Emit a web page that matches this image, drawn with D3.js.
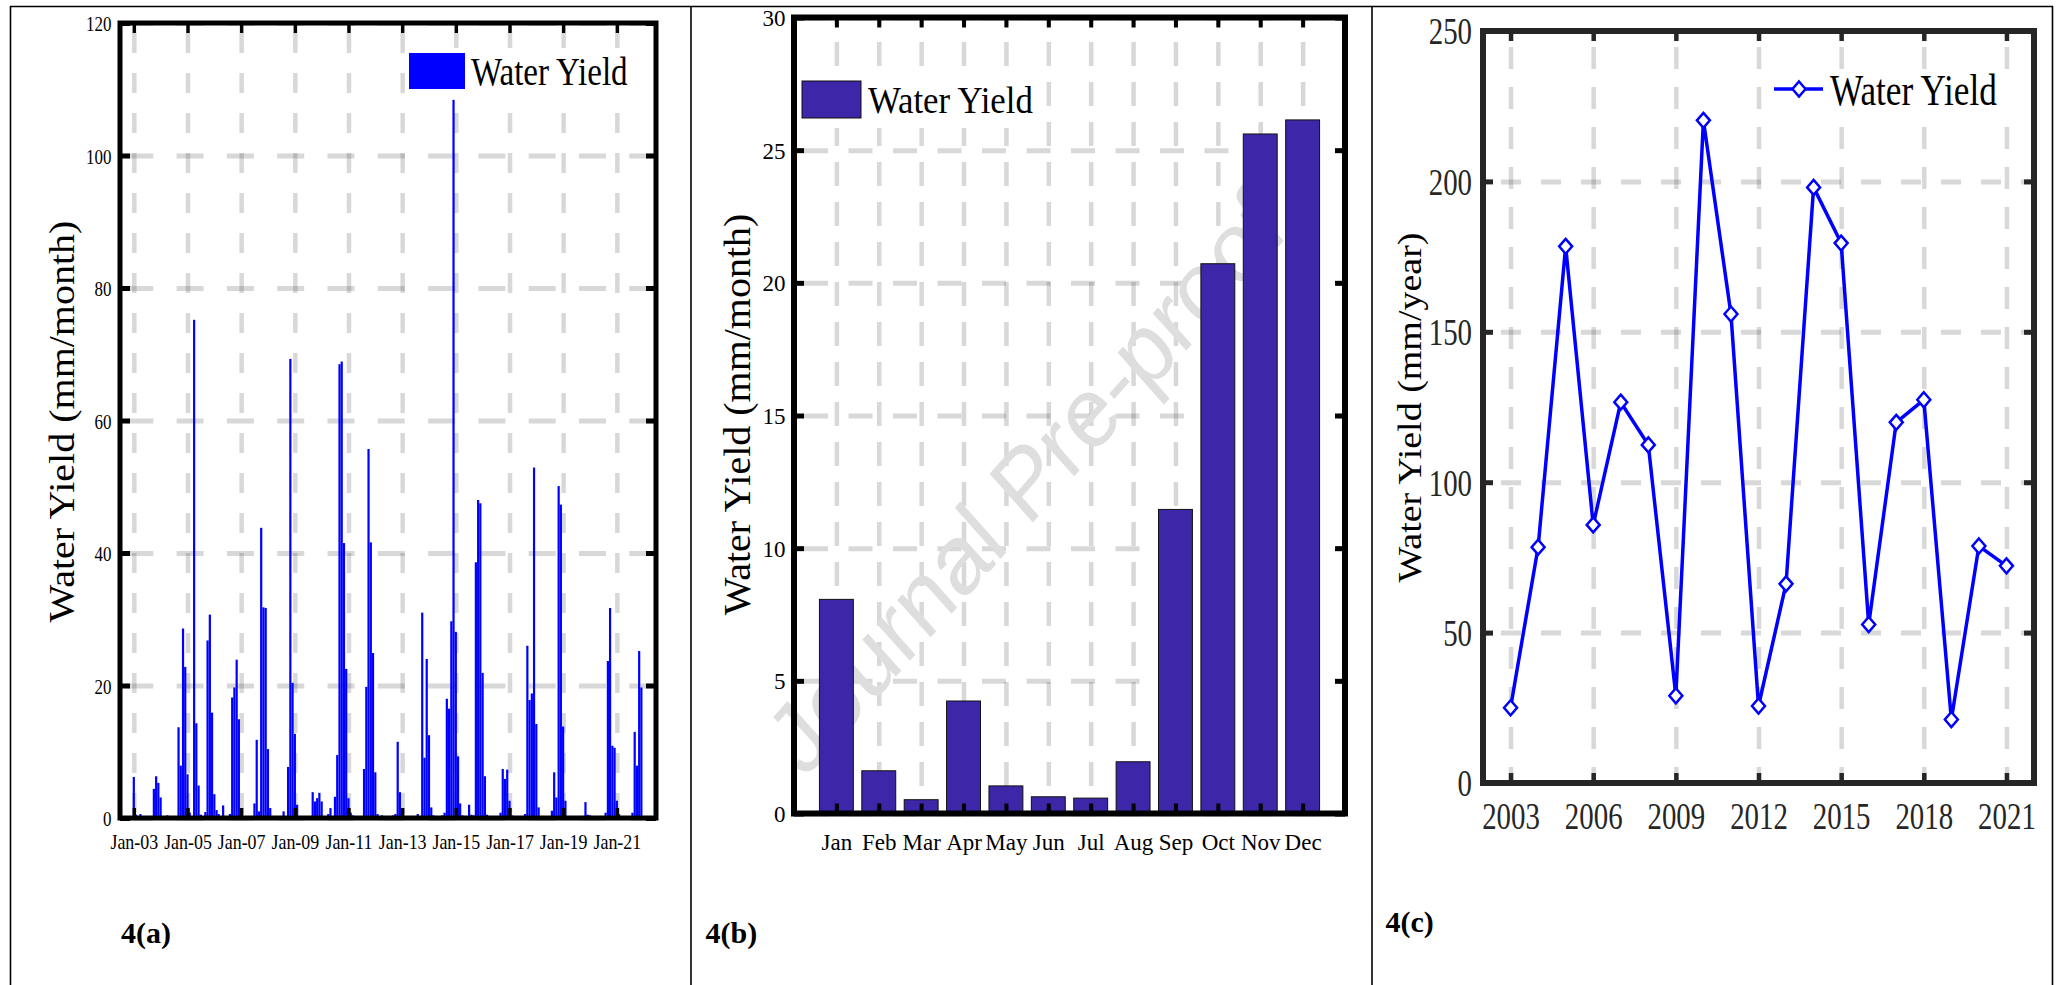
<!DOCTYPE html>
<html>
<head>
<meta charset="utf-8">
<script src="https://cdn.jsdelivr.net/npm/d3@7"></script>
<style>
  html, body { margin: 0; padding: 0; background: #fff; }
  svg { display: block; }
</style>
</head>
<body>
<svg id="fig" width="2060" height="985"></svg>
<script>
// ---------------- data ----------------
const seriesName = "Water Yield";
const firstYear = 2003;

// Monthly water yield (mm/month), Jan 2003 - Dec 2021, one row per year (Jan..Dec)
const monthlyYield = [
  [6.2, 0.5, 0.3, 0.6, 0.1, 0.0, 0.0, 0.1, 0.3, 4.4, 6.3, 5.3],        // 2003
  [3.1, 0.3, 0.1, 0.4, 0.2, 0.1, 0.0, 0.2, 13.7, 7.9, 28.6, 22.8],     // 2004
  [6.6, 0.8, 0.3, 75.2, 14.3, 4.9, 0.5, 0.2, 0.9, 26.8, 30.7, 15.9],   // 2005
  [3.6, 1.2, 0.6, 0.3, 1.9, 0.1, 0.1, 0.6, 18.2, 19.7, 23.9, 14.9],    // 2006
  [1.2, 0.3, 0.2, 0.3, 0.1, 0.2, 2.2, 11.8, 1.0, 43.8, 31.8, 31.7],    // 2007
  [10.4, 1.5, 0.3, 0.2, 0.1, 0.1, 0.1, 1.0, 0.2, 7.7, 69.3, 20.4],     // 2008
  [12.7, 2.0, 0.3, 0.2, 0.1, 0.1, 0.1, 0.1, 3.9, 2.5, 3.0, 3.8],       // 2009
  [2.5, 0.3, 0.2, 0.6, 1.5, 0.2, 3.2, 9.5, 68.5, 68.9, 41.5, 22.5],    // 2010
  [3.0, 0.8, 0.4, 0.3, 0.3, 0.2, 0.2, 7.4, 19.8, 55.7, 41.6, 24.9],    // 2011
  [6.9, 0.6, 0.3, 0.4, 0.3, 0.2, 0.2, 0.3, 0.4, 0.6, 11.5, 3.9],       // 2012
  [0.5, 0.3, 0.2, 0.1, 0.1, 0.1, 0.1, 0.6, 0.3, 31.0, 9.1, 24.0],      // 2013
  [12.5, 1.6, 0.4, 0.3, 0.2, 0.1, 0.4, 0.8, 18.0, 16.5, 29.7, 108.4],  // 2014
  [28.1, 9.3, 2.2, 0.4, 0.3, 0.3, 2.0, 0.5, 0.4, 38.6, 48.0, 47.5],    // 2015
  [21.9, 6.3, 0.5, 0.3, 0.2, 0.2, 0.2, 0.3, 0.8, 7.4, 5.9, 7.3],       // 2016
  [2.6, 0.4, 0.2, 0.1, 0.1, 0.1, 0.2, 0.6, 26.0, 17.8, 18.8, 52.9],    // 2017
  [14.2, 1.6, 0.3, 0.2, 0.1, 0.1, 0.2, 1.1, 6.9, 3.1, 50.1, 47.3],     // 2018
  [13.8, 2.6, 0.3, 0.2, 0.1, 0.1, 0.1, 0.1, 0.2, 0.3, 2.4, 0.5],       // 2019
  [0.4, 0.2, 0.1, 0.1, 0.1, 0.1, 0.2, 0.8, 23.7, 31.7, 10.9, 10.6],    // 2020
  [2.6, 0.6, 0.2, 0.1, 0.1, 0.1, 0.1, 0.8, 13.0, 7.9, 25.2, 19.7]      // 2021
];
const dateTickYears = [2003, 2005, 2007, 2009, 2011, 2013, 2015, 2017, 2019, 2021];
const yTicksA = [0, 20, 40, 60, 80, 100, 120];

// Mean monthly water yield (mm/month)
const months = ["Jan", "Feb", "Mar", "Apr", "May", "Jun", "Jul", "Aug", "Sep", "Oct", "Nov", "Dec"];
const monthlyMean = [8.07, 1.61, 0.52, 4.24, 1.04, 0.63, 0.58, 1.95, 11.46, 20.72, 25.61, 26.14];
const yTicksB = [0, 5, 10, 15, 20, 25, 30];

// Annual water yield (mm/year)
const years = [2003, 2004, 2005, 2006, 2007, 2008, 2009, 2010, 2011, 2012,
               2013, 2014, 2015, 2016, 2017, 2018, 2019, 2020, 2021];
const annualYield = [25.0, 78.4, 178.4, 85.8, 126.6, 112.4, 29.0, 220.3, 155.9, 25.6,
                     66.2, 198.0, 179.5, 52.7, 119.9, 127.4, 21.1, 78.8, 72.2];
const yearTicks = [2003, 2006, 2009, 2012, 2015, 2018, 2021];
const yTicksC = [0, 50, 100, 150, 200, 250];

const panelTags = ["4(a)", "4(b)", "4(c)"];
const watermark = "Journal Pre-proof";

// ---------------- helpers ----------------
const SERIF = "'Liberation Serif', 'Times New Roman', serif";
const SANS = "'Liberation Sans', Arial, sans-serif";
const svg = d3.select("#fig");
svg.append("rect").attr("width", 2060).attr("height", 985).attr("fill", "#fff");

// horizontally squeezed text, positioned by its anchor point
function txt(parent, s, x, y, size, sx, o = {}) {
  return parent.append("text")
    .attr("transform", `translate(${x},${y}) scale(${sx},1)` + (o.rotate ? ` rotate(${o.rotate})` : ""))
    .attr("font-size", size)
    .attr("font-family", o.family || SERIF)
    .attr("font-weight", o.weight || "normal")
    .attr("text-anchor", o.anchor || "start")
    .attr("fill", o.fill || "#000")
    .text(s);
}

function gridStyle(g, width, dash, offset) {
  g.select(".domain").remove();
  g.selectAll(".tick text").remove();
  g.selectAll(".tick line")
    .attr("stroke", "#262626").attr("stroke-opacity", 0.18)
    .attr("stroke-width", width)
    .attr("stroke-dasharray", dash)
    .attr("stroke-dashoffset", offset);
}

function tickStyle(g, color, width) {
  g.select(".domain").remove();
  g.attr("font-family", SERIF).attr("color", color);
  g.selectAll(".tick line").attr("stroke", color).attr("stroke-width", width);
}

// ---------------- table rules ----------------
const rules = svg.append("g").attr("stroke", "#000").attr("stroke-width", 1.6);
rules.append("line").attr("x1", 10).attr("x2", 2053).attr("y1", 6.5).attr("y2", 6.5);
[10.5, 691, 1372, 2052.5].forEach(x =>
  rules.append("line").attr("x1", x).attr("x2", x).attr("y1", 6).attr("y2", 985));

// ================= panel (a): monthly series =================
{
  const P = { x0: 120, x1: 656, y0: 23, y1: 818 };
  const g = svg.append("g");
  const data = monthlyYield.flatMap((row, i) =>
    row.map((v, j) => ({ date: new Date(firstYear + i, j, 1), value: v })));
  const x = d3.scaleTime().domain([new Date(2002, 5, 27), new Date(2022, 5, 18)]).range([P.x0, P.x1]);
  const y = d3.scaleLinear().domain([0, 120]).range([P.y1, P.y0]);
  const tickDates = dateTickYears.map(yr => new Date(yr, 0, 1));

  g.append("g").attr("transform", `translate(0,${P.y1})`)
    .call(d3.axisBottom(x).tickValues(tickDates).tickSize(-(P.y1 - P.y0)).tickFormat(""))
    .call(s => gridStyle(s, 4.5, "20,20", 35));
  g.append("g").attr("transform", `translate(${P.x0},0)`)
    .call(d3.axisLeft(y).tickValues(yTicksA).tickSize(-(P.x1 - P.x0)).tickFormat(""))
    .call(s => gridStyle(s, 5, "27,23.3", 44));

  g.append("g").selectAll("rect").data(data).join("rect")
    .attr("x", d => x(d.date) - 1.1).attr("width", 2.2)
    .attr("y", d => y(d.value)).attr("height", d => y(0) - y(d.value))
    .attr("fill", "#0000ff");

  g.append("rect").attr("x", P.x0).attr("y", P.y0)
    .attr("width", P.x1 - P.x0).attr("height", P.y1 - P.y0)
    .attr("fill", "none").attr("stroke", "#000").attr("stroke-width", 5);

  const bx = g.append("g").attr("transform", `translate(0,${P.y1})`)
    .call(d3.axisBottom(x).tickValues(tickDates).tickSize(-10).tickFormat(d3.timeFormat("%b-%y")))
    .call(s => tickStyle(s, "#000", 3.5));
  bx.selectAll(".tick text").attr("y", 31).attr("dy", null)
    .attr("font-size", 22).attr("transform", "scale(0.815,1)");
  g.append("g").attr("transform", `translate(0,${P.y0})`)
    .call(d3.axisTop(x).tickValues(tickDates).tickSize(-10).tickFormat(""))
    .call(s => tickStyle(s, "#000", 3.5));
  const ly = g.append("g").attr("transform", `translate(${P.x0},0)`)
    .call(d3.axisLeft(y).tickValues(yTicksA).tickSize(-10))
    .call(s => tickStyle(s, "#000", 5));
  ly.selectAll(".tick text").attr("x", -8.5 / 0.77).attr("dy", "0.35em")
    .attr("font-size", 22).attr("transform", "scale(0.77,1)");
  g.append("g").attr("transform", `translate(${P.x1},0)`)
    .call(d3.axisRight(y).tickValues(yTicksA).tickSize(-10).tickFormat(""))
    .call(s => tickStyle(s, "#000", 5));

  txt(g, "Water Yield (mm/month)", 73.5, 421.5, 40, 0.92, { rotate: -90, anchor: "middle" });

  // legend
  g.append("rect").attr("x", 405).attr("y", 48).attr("width", 247).attr("height", 50).attr("fill", "#fff");
  g.append("rect").attr("x", 409).attr("y", 53).attr("width", 56).attr("height", 36).attr("fill", "#0000ff");
  txt(g, seriesName, 471, 85, 40.8, 0.81);

  txt(g, panelTags[0], 121, 943, 30, 1, { weight: "bold" });
}

// ================= panel (b): mean monthly bars =================
{
  const P = { x0: 794, x1: 1345, y0: 17.5, y1: 813.5 };
  const g = svg.append("g");
  const x = d3.scaleLinear().domain([0, 13]).range([P.x0, P.x1]);
  const y = d3.scaleLinear().domain([0, 30]).range([P.y1, P.y0]);
  const pos = months.map((m, i) => i + 1);
  const fmt = i => months[i - 1];

  g.append("g").attr("transform", `translate(0,${P.y1})`)
    .call(d3.axisBottom(x).tickValues(pos).tickSize(-(P.y1 - P.y0)).tickFormat(""))
    .call(s => gridStyle(s, 4.5, "24,16", 12.5));
  g.append("g").attr("transform", `translate(${P.x0},0)`)
    .call(d3.axisLeft(y).tickValues(yTicksB).tickSize(-(P.x1 - P.x0)).tickFormat(""))
    .call(s => gridStyle(s, 5, "24,20.5", 34.5));

  // watermark
  txt(g, watermark, 1025, 482, 100, 0.89, { rotate: -45, anchor: "middle", family: SANS, fill: "#dedede" })
    .attr("dy", "0.35em");

  const bw = (x(1) - x(0)) * 0.8;
  g.append("g").selectAll("rect").data(monthlyMean).join("rect")
    .attr("x", (d, i) => x(i + 1) - bw / 2).attr("width", bw)
    .attr("y", d => y(d)).attr("height", d => y(0) - y(d))
    .attr("fill", "#3e26a8").attr("stroke", "#111").attr("stroke-width", 1);

  g.append("rect").attr("x", P.x0).attr("y", P.y0)
    .attr("width", P.x1 - P.x0).attr("height", P.y1 - P.y0)
    .attr("fill", "none").attr("stroke", "#000").attr("stroke-width", 6);

  const bx = g.append("g").attr("transform", `translate(0,${P.y1})`)
    .call(d3.axisBottom(x).tickValues(pos).tickSize(-10).tickFormat(fmt))
    .call(s => tickStyle(s, "#000", 4));
  bx.selectAll(".tick text").attr("y", 36).attr("dy", null).attr("font-size", 23);
  g.append("g").attr("transform", `translate(0,${P.y0})`)
    .call(d3.axisTop(x).tickValues(pos).tickSize(-10).tickFormat(""))
    .call(s => tickStyle(s, "#000", 4));
  const ly = g.append("g").attr("transform", `translate(${P.x0},0)`)
    .call(d3.axisLeft(y).tickValues(yTicksB).tickSize(-10))
    .call(s => tickStyle(s, "#000", 5));
  ly.selectAll(".tick text").attr("x", -8.5).attr("dy", "0.35em").attr("font-size", 23);
  g.append("g").attr("transform", `translate(${P.x1},0)`)
    .call(d3.axisRight(y).tickValues(yTicksB).tickSize(-10).tickFormat(""))
    .call(s => tickStyle(s, "#000", 5));

  txt(g, "Water Yield (mm/month)", 750, 414.5, 40, 0.93, { rotate: -90, anchor: "middle" });

  // legend
  g.append("rect").attr("x", 797).attr("y", 70).attr("width", 248).attr("height", 58).attr("fill", "#fff");
  g.append("rect").attr("x", 802).attr("y", 81).attr("width", 59).attr("height", 37)
    .attr("fill", "#3e26a8").attr("stroke", "#111").attr("stroke-width", 1);
  txt(g, seriesName, 868, 113, 38, 0.915);

  txt(g, panelTags[1], 705.5, 943, 30, 1, { weight: "bold" });
}

// ================= panel (c): annual line =================
{
  const P = { x0: 1483, x1: 2034, y0: 31, y1: 783 };
  const AX = "#262626";
  const g = svg.append("g");
  const x = d3.scaleLinear().domain([2002, 2022]).range([P.x0, P.x1]);
  const y = d3.scaleLinear().domain([0, 250]).range([P.y1, P.y0]);
  const data = years.map((yr, i) => ({ year: yr, value: annualYield[i] }));

  g.append("g").attr("transform", `translate(0,${P.y1})`)
    .call(d3.axisBottom(x).tickValues(yearTicks).tickSize(-(P.y1 - P.y0)).tickFormat(""))
    .call(s => gridStyle(s, 4.5, "22,18", 6));
  g.append("g").attr("transform", `translate(${P.x0},0)`)
    .call(d3.axisLeft(y).tickValues(yTicksC).tickSize(-(P.x1 - P.x0)).tickFormat(""))
    .call(s => gridStyle(s, 5, "20,20", 22));

  g.append("path").datum(data)
    .attr("d", d3.line().x(d => x(d.year)).y(d => y(d.value)))
    .attr("fill", "none").attr("stroke", "#0000ff").attr("stroke-width", 3.5)
    .attr("stroke-linejoin", "miter");

  const diamond = "M0,-7.5L6.5,0L0,7.5L-6.5,0Z";
  g.append("g").selectAll("path").data(data).join("path")
    .attr("transform", d => `translate(${x(d.year)},${y(d.value)})`)
    .attr("d", diamond)
    .attr("fill", "#fff").attr("stroke", "#0000ff").attr("stroke-width", 2.5);

  g.append("rect").attr("x", P.x0).attr("y", P.y0)
    .attr("width", P.x1 - P.x0).attr("height", P.y1 - P.y0)
    .attr("fill", "none").attr("stroke", AX).attr("stroke-width", 6);

  const bx = g.append("g").attr("transform", `translate(0,${P.y1})`)
    .call(d3.axisBottom(x).tickValues(yearTicks).tickSize(-10).tickFormat(d3.format("d")))
    .call(s => tickStyle(s, AX, 4.5));
  bx.selectAll(".tick text").attr("y", 46.5).attr("dy", null)
    .attr("font-size", 37).attr("transform", "scale(0.78,1)");
  g.append("g").attr("transform", `translate(0,${P.y0})`)
    .call(d3.axisTop(x).tickValues(yearTicks).tickSize(-10).tickFormat(""))
    .call(s => tickStyle(s, AX, 4.5));
  const ly = g.append("g").attr("transform", `translate(${P.x0},0)`)
    .call(d3.axisLeft(y).tickValues(yTicksC).tickSize(-10))
    .call(s => tickStyle(s, AX, 5));
  ly.selectAll(".tick text").attr("x", -11 / 0.78).attr("dy", "0.35em")
    .attr("font-size", 37).attr("transform", "scale(0.78,1)");
  g.append("g").attr("transform", `translate(${P.x1},0)`)
    .call(d3.axisRight(y).tickValues(yTicksC).tickSize(-10).tickFormat(""))
    .call(s => tickStyle(s, AX, 5));

  txt(g, "Water Yield (mm/year)", 1421, 407.5, 38, 0.88, { rotate: -90, anchor: "middle" });

  // legend
  g.append("rect").attr("x", 1765).attr("y", 70).attr("width", 264).attr("height", 52).attr("fill", "#fff");
  g.append("line").attr("x1", 1774).attr("x2", 1823).attr("y1", 89).attr("y2", 89)
    .attr("stroke", "#0000ff").attr("stroke-width", 3.5);
  g.append("path").attr("transform", "translate(1799,89)").attr("d", diamond)
    .attr("fill", "#fff").attr("stroke", "#0000ff").attr("stroke-width", 2.5);
  txt(g, seriesName, 1830, 105, 44, 0.8);

  txt(g, panelTags[2], 1385.5, 932, 30, 1, { weight: "bold" });
}
</script>
</body>
</html>
